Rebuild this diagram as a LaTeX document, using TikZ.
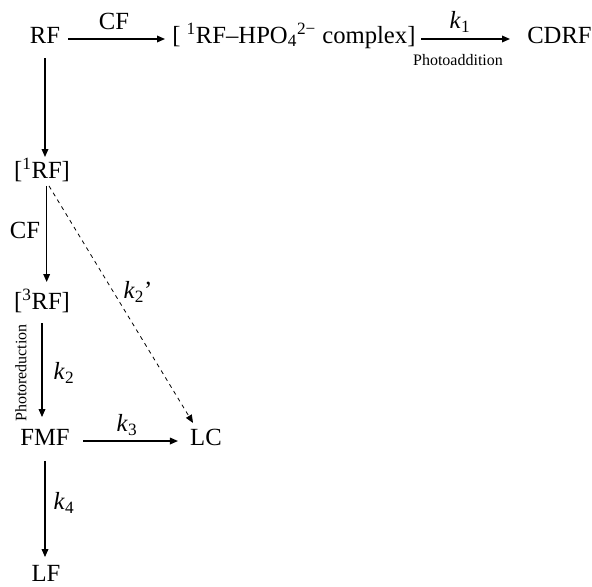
\documentclass[tikz,border=0pt]{standalone}
\usepackage{fontspec}
\setmainfont{Liberation Serif}
\usetikzlibrary{arrows.meta}
\tikzset{
	species/.style={inner sep=0pt,text height=0.7em,text depth=0.05em,font=\fontsize{18.5}{21}\selectfont},
	rate/.style={inner sep=0pt,font=\fontsize{18.5}{21}\selectfont},
	tiny/.style={inner sep=0pt,font=\fontsize{12}{14}\selectfont},
	react/.style={line width=0.9pt,-{Triangle[length=6pt,width=5pt]}}
}
\begin{document}
\begin{tikzpicture}[x=0.75pt,y=-0.75pt]
			\useasboundingbox (0,0) rectangle (592,586);
			\node[species] (rf) at (45,39) {RF};
			\node[species,anchor=west] (cx) at (172,39) {[ \textsuperscript{1}RF–HPO\textsubscript{4}\textsuperscript{2−} complex]};
			\node[species,anchor=west] (cdrf) at (527,39) {CDRF};
			\node[species] (rf1) at (42,174) {[\textsuperscript{1}RF]};
			\node[species] (rf3) at (42,305) {[\textsuperscript{3}RF]};
			\node[species] (fmf) at (45,441) {FMF};
			\node[species] (lc) at (206,441) {LC};
			\node[species] (lf) at (46,577) {LF};
			\node[rate] (cf1) at (114,21) {CF};
			\node[rate] (k1) at (460,22) {\textit{k}\textsubscript{1}};
			\node[tiny] (padd) at (458,60) {Photoaddition};
			\node[rate] (cf2) at (25,230) {CF};
			\node[rate] (k2p) at (138,292) {\textit{k}\textsubscript{2}'};
			\node[tiny,rotate=90] (pred) at (21,373) {Photoreduction};
			\node[rate] (k2) at (64,373) {\textit{k}\textsubscript{2}};
			\node[rate] (k3) at (127,425) {\textit{k}\textsubscript{3}};
			\node[rate] (k4) at (64,503) {\textit{k}\textsubscript{4}};
			\draw [react,shorten <=6pt,shorten >=5.25pt] (rf.east) -- (cx.west);
			\draw [react,shorten <=4pt,shorten >=12.75pt] (cx.east) -- (cdrf.west);
			\draw [react,shorten <=10.3pt,shorten >=8.8pt] (rf.south) -- (rf.south |- rf1.north);
			\draw [react,shorten <=5pt,shorten >=13.3pt] ([xshift=3.5pt]rf1.south) -- ([xshift=3.5pt]rf1.south |- rf3.north);
			\draw [react,shorten <=9.6pt,shorten >=14pt] (rf3.south) -- (rf3.south |- fmf.north);
			\draw [react,shorten <=11pt,shorten >=11pt] (fmf.south) -- (fmf.south |- lf.north);
			\draw [react,shorten <=10pt,shorten >=9pt] (fmf.east) -- (lc.west);
			\draw [react,dashed,line width=0.6pt] ([xshift=5.25pt,yshift=-5pt]rf1.south) -- ([xshift=-9.75pt,yshift=9.6pt]lc.north);
		\end{tikzpicture}
\end{document}
